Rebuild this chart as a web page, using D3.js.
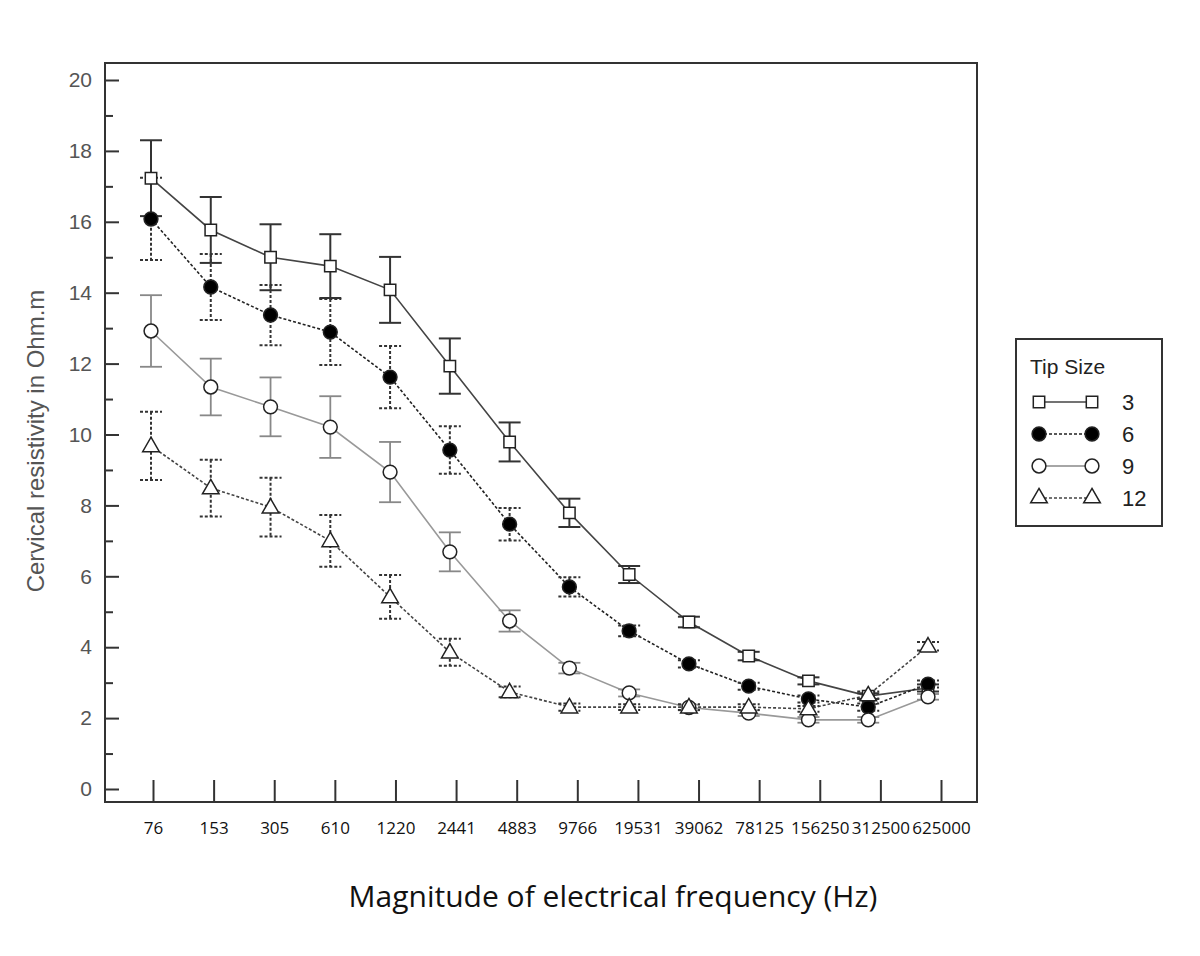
<!DOCTYPE html>
<html>
<head>
<meta charset="utf-8">
<script src="https://cdn.jsdelivr.net/npm/d3@7"></script>
<style>
  body { margin: 0; background: #fff; }
</style>
</head>
<body>
<div id="chart"></div>
<script>
// frequencies (Hz) on the x axis
const freqs = ["76", "153", "305", "610", "1220", "2441", "4883", "9766",
  "19531", "39062", "78125", "156250", "312500", "625000"];

// mean resistivity per tip size
const tip3 = [17.23, 15.77, 15.0, 14.75, 14.08, 11.93, 9.79, 7.79, 6.05, 4.71, 3.75, 3.05, 2.62, 2.85];
const tip6 = [16.08, 14.16, 13.37, 12.89, 11.62, 9.56, 7.47, 5.70, 4.46, 3.53, 2.9, 2.54, 2.31, 2.96];
const tip9 = [12.92, 11.34, 10.78, 10.21, 8.94, 6.69, 4.74, 3.41, 2.71, 2.3, 2.14, 1.95, 1.95, 2.6];
const tip12 = [9.68, 8.49, 7.95, 7.0, 5.42, 3.86, 2.74, 2.31, 2.31, 2.31, 2.31, 2.26, 2.65, 4.03];

// error bar half-lengths
const err3 = [1.07, 0.93, 0.93, 0.9, 0.93, 0.78, 0.55, 0.4, 0.24, 0.15, 0.12, 0.1, 0.08, 0.1];
const err6 = [1.16, 0.93, 0.85, 0.93, 0.88, 0.67, 0.46, 0.27, 0.15, 0.1, 0.1, 0.1, 0.1, 0.1];
const err9 = [1.01, 0.8, 0.83, 0.87, 0.85, 0.55, 0.3, 0.15, 0.1, 0.08, 0.08, 0.08, 0.08, 0.08];
const err12 = [0.96, 0.8, 0.83, 0.73, 0.62, 0.38, 0.15, 0.1, 0.08, 0.08, 0.08, 0.08, 0.1, 0.12];

const tipNames = ["3", "6", "9", "12"];
const yMajor = [0, 2, 4, 6, 8, 10, 12, 14, 16, 18, 20];
const yMinor = [1, 3, 5, 7, 9, 11, 13, 15, 17, 19];

const width = 1200, height = 956;
const frame = { left: 105, right: 977, top: 63, bottom: 802 };

const svg = d3.select("#chart")
  .append("svg")
  .attr("width", width)
  .attr("height", height);

const x = d3.scalePoint().domain(freqs).range([151, 928]);
const xTick = d3.scalePoint().domain(freqs).range([153, 941]);
const y = d3.scaleLinear().domain([0, 20]).range([789, 80]);

// plot frame
svg.append("rect")
  .attr("x", frame.left)
  .attr("y", frame.top)
  .attr("width", frame.right - frame.left)
  .attr("height", frame.bottom - frame.top)
  .attr("fill", "none")
  .attr("stroke", "#333")
  .attr("stroke-width", 2);

// y axis, ticks pointing inward
const yAxis = svg.append("g")
  .attr("transform", `translate(${frame.left},0)`)
  .call(d3.axisLeft(y).tickValues(yMajor).tickSize(-14).tickPadding(13));
yAxis.select(".domain").remove();
yAxis.selectAll(".tick line").attr("stroke", "#333").attr("stroke-width", 2);
yAxis.selectAll(".tick text")
  .attr("font-family", "Liberation Sans, Arial, sans-serif")
  .attr("font-size", 21)
  .attr("fill", "#555");

const yAxisMinor = svg.append("g")
  .attr("transform", `translate(${frame.left},0)`)
  .call(d3.axisLeft(y).tickValues(yMinor).tickSize(-8).tickFormat(""));
yAxisMinor.select(".domain").remove();
yAxisMinor.selectAll(".tick line").attr("stroke", "#333").attr("stroke-width", 2);

// x axis, ticks pointing up
const xAxis = svg.append("g")
  .attr("transform", `translate(0,${frame.bottom})`)
  .call(d3.axisBottom(xTick).tickSize(-22).tickPadding(20));
xAxis.select(".domain").remove();
xAxis.selectAll(".tick line").attr("stroke", "#333").attr("stroke-width", 2);
xAxis.selectAll(".tick text")
  .attr("font-family", "Open Sans, sans-serif")
  .attr("font-size", 17)
  .attr("fill", "#111");

// axis titles
svg.append("text")
  .attr("x", 613)
  .attr("y", 907)
  .attr("text-anchor", "middle")
  .attr("font-family", "Open Sans, sans-serif")
  .attr("font-size", 30)
  .attr("fill", "#111")
  .text("Magnitude of electrical frequency (Hz)");

svg.append("text")
  .attr("transform", "translate(44,441) rotate(-90)")
  .attr("text-anchor", "middle")
  .attr("font-family", "Liberation Sans, Arial, sans-serif")
  .attr("font-size", 24)
  .attr("fill", "#555")
  .text("Cervical resistivity in Ohm.m");

const series = [
  { name: tipNames[0], values: tip3, errs: err3, shape: "square", fill: "#fff",
    line: "#444", lineW: 1.6, dash: null, bar: "#333", barW: 2, barDash: null },
  { name: tipNames[1], values: tip6, errs: err6, shape: "circle", fill: "#000",
    line: "#222", lineW: 1.6, dash: "3,2", bar: "#333", barW: 2, barDash: "3,2" },
  { name: tipNames[2], values: tip9, errs: err9, shape: "circle", fill: "#fff",
    line: "#999", lineW: 1.6, dash: null, bar: "#888", barW: 1.8, barDash: null },
  { name: tipNames[3], values: tip12, errs: err12, shape: "triangle", fill: "#fff",
    line: "#444", lineW: 1.6, dash: "3,2", bar: "#333", barW: 2, barDash: "3,2" }
];

function symbolPath(shape) {
  if (shape === "square") return d3.symbol(d3.symbolSquare, 130)();
  if (shape === "triangle") return d3.symbol(d3.symbolTriangle, 120)();
  return d3.symbol(d3.symbolCircle, 150)();
}

const line = d3.line()
  .x(d => x(d.f))
  .y(d => y(d.v));

const capHalf = 11;

// lines first
series.forEach(s => {
  const pts = freqs.map((f, i) => ({ f: f, v: s.values[i], e: s.errs[i] }));
  s.pts = pts;
  svg.append("path")
    .datum(pts)
    .attr("d", line)
    .attr("fill", "none")
    .attr("stroke", s.line)
    .attr("stroke-width", s.lineW)
    .attr("stroke-dasharray", s.dash);
});

// error bars
series.forEach(s => {
  const g = svg.append("g")
    .attr("stroke", s.bar)
    .attr("stroke-width", s.barW)
    .attr("stroke-dasharray", s.barDash);
  g.selectAll(".stem")
    .data(s.pts)
    .join("line")
    .attr("x1", d => x(d.f)).attr("x2", d => x(d.f))
    .attr("y1", d => y(d.v + d.e)).attr("y2", d => y(d.v - d.e));
  g.selectAll(".capTop")
    .data(s.pts)
    .join("line")
    .attr("class", "capTop")
    .attr("x1", d => x(d.f) - capHalf).attr("x2", d => x(d.f) + capHalf)
    .attr("y1", d => y(d.v + d.e)).attr("y2", d => y(d.v + d.e));
  g.selectAll(".capBot")
    .data(s.pts)
    .join("line")
    .attr("class", "capBot")
    .attr("x1", d => x(d.f) - capHalf).attr("x2", d => x(d.f) + capHalf)
    .attr("y1", d => y(d.v - d.e)).attr("y2", d => y(d.v - d.e));
});

// markers
series.forEach(s => {
  svg.append("g")
    .selectAll("path")
    .data(s.pts)
    .join("path")
    .attr("d", symbolPath(s.shape))
    .attr("transform", d => `translate(${x(d.f)},${y(d.v) + (s.shape === "triangle" ? 1 : 0)})`)
    .attr("fill", s.fill)
    .attr("stroke", "#222")
    .attr("stroke-width", 1.5);
});

// legend
const legend = svg.append("g");
legend.append("rect")
  .attr("x", 1016).attr("y", 339)
  .attr("width", 146).attr("height", 187)
  .attr("fill", "#fff")
  .attr("stroke", "#333")
  .attr("stroke-width", 2);
legend.append("text")
  .attr("x", 1030).attr("y", 374)
  .attr("font-family", "Liberation Sans, Arial, sans-serif")
  .attr("font-size", 21)
  .attr("fill", "#222")
  .text("Tip Size");

series.forEach((s, i) => {
  const ly = 402 + i * 32;
  legend.append("line")
    .attr("x1", 1039).attr("x2", 1092)
    .attr("y1", ly).attr("y2", ly)
    .attr("stroke", s.line === "#999" ? "#888" : s.line)
    .attr("stroke-width", 1.5)
    .attr("stroke-dasharray", s.dash);
  [1039, 1092].forEach(lx => {
    legend.append("path")
      .attr("d", symbolPath(s.shape))
      .attr("transform", `translate(${lx},${ly})`)
      .attr("fill", s.fill)
      .attr("stroke", "#222")
      .attr("stroke-width", 1.5);
  });
  legend.append("text")
    .attr("x", 1122).attr("y", ly + 8)
    .attr("font-family", "Liberation Sans, Arial, sans-serif")
    .attr("font-size", 22)
    .attr("fill", "#222")
    .text(s.name);
});
</script>
</body>
</html>
